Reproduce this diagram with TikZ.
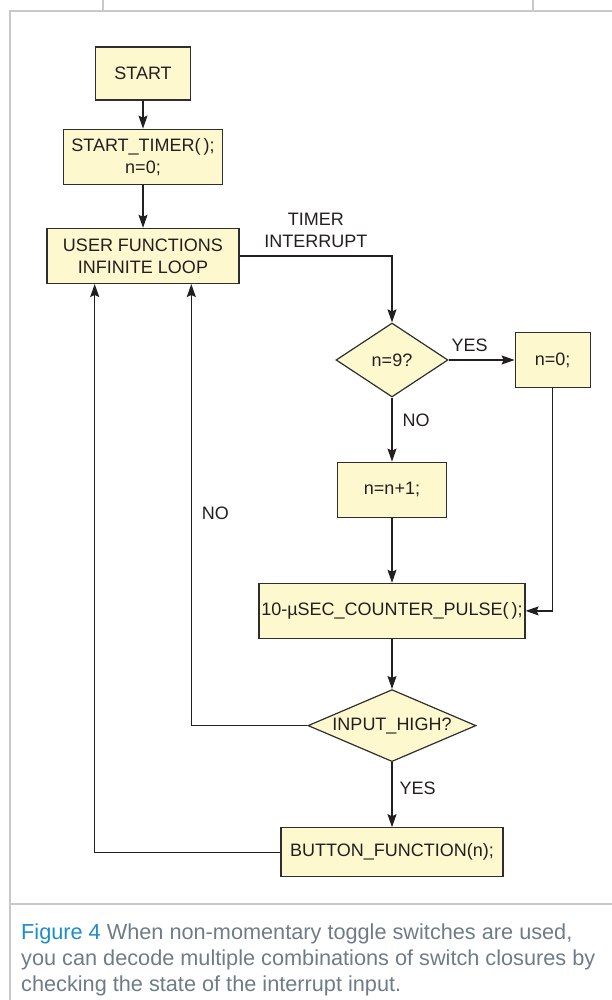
\documentclass[tikz,border=0pt]{standalone}
\usepackage{fontspec}
\setmainfont{Liberation Sans}
\usepackage{tikz}
\usetikzlibrary{positioning}
\usetikzlibrary{shapes.geometric}
\usetikzlibrary{arrows.meta}
\usetikzlibrary{calc}

\definecolor{boxfill}{HTML}{FEF8CF}
\definecolor{boxline}{HTML}{2E2E2E}
\definecolor{ink}{HTML}{231F20}
\definecolor{framegray}{HTML}{C8C8C8}
\definecolor{capgray}{HTML}{6F7C86}
\definecolor{figblue}{HTML}{1B8DCB}

\begin{document}
\begin{tikzpicture}[
x=1pt, y=-1pt,
font=\fontsize{18}{22}\selectfont,
procnode/.style={rectangle, draw=boxline, fill=boxfill, line width=1.2pt, minimum height=55pt, inner sep=1pt, align=center, text=ink},
decnode/.style={diamond, draw=boxline, fill=boxfill, line width=1.2pt, inner sep=0pt, text=ink},
flow/.style={-{Stealth[length=13pt,width=9pt,inset=2pt]}, line width=1.2pt, draw=ink},
tag/.style={inner sep=0pt, text=ink},
frame/.style={draw=framegray, line width=1.5pt},
]
\useasboundingbox (0,0) rectangle (612,1000);

%Frame
\draw[frame] (10,1000) -- (10,11) -- (612,11);
\draw[frame] (103,0) -- (103,11);
\draw[frame] (533,0) -- (533,11);
\draw[frame] (10,904) -- (612,904);

%Nodes
\node[procnode, minimum width=95pt, minimum height=53pt] (start) at (143,73.5) {START};
\node[procnode, minimum width=159pt] (timer) [below=28pt of start] {START\_TIMER(\,);\\n=0;};
\node[procnode, minimum width=192pt] (loop) [below=43pt of timer] {USER FUNCTIONS\\INFINITE LOOP};
\node[decnode, aspect=1.5, minimum width=112pt, minimum height=74pt] (check) at (392,360) {n=9?};
\node[procnode, minimum width=75pt] (reset) [right=66pt of check] {n=0;};
\node[procnode, minimum width=109pt] (incr) [below=64pt of check] {n=n+1;};
\node[procnode, minimum width=266pt] (pulse) [below=65pt of incr] {10-µSEC\_COUNTER\_PULSE(\,);};
\node[decnode, aspect=2.4, minimum width=168pt, minimum height=72pt] (input) [below=50pt of pulse] {INPUT\_HIGH?};
\node[procnode, minimum width=222pt, minimum height=49pt] (button) [below=65pt of input] {BUTTON\_FUNCTION(n);};

%Lines
\draw[flow] (start) -- (timer);
\draw[flow] (timer) -- (loop);
\draw[flow] (loop.east) -| (check.north) node[tag, above=8pt, pos=0.25, align=center] {TIMER\\INTERRUPT};
\draw[flow] (check.east) -- (reset.west) node[tag, above=8pt, pos=0.32] {YES};
\draw[flow] (check.south) -- (incr.north) node[tag, right=10pt, pos=0.36] {NO};
\draw[flow] (incr) -- (pulse);
\draw[flow] (reset.south) |- (pulse.east);
\draw[flow] (pulse) -- (input);
\draw[flow] (input.west) -| ($(loop.south)!0.5!(loop.south east)$) node[tag, right=10pt, pos=0.74] {NO};
\draw[flow] (input) -- (button) node[tag, right=7pt, pos=0.4] {YES};
\draw[flow] (button.west) -| ($(loop.south)!0.5!(loop.south west)$);

%Caption
\node[anchor=north west, inner sep=0pt, align=left, font=\fontsize{21.7}{26}\selectfont, text=capgray] (caption) at (21,924)
  {\textcolor{figblue}{Figure 4} When non-momentary toggle switches are used,\\you can decode multiple combinations of switch closures by\\checking the state of the interrupt input.};
\end{tikzpicture}
\end{document}
